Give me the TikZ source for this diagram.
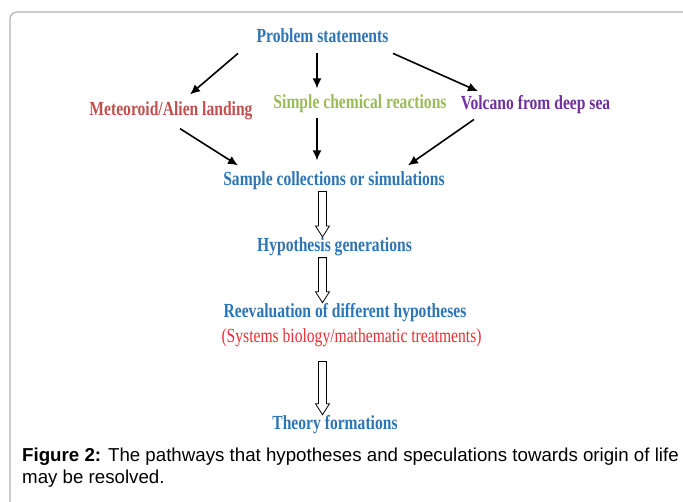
\documentclass[tikz,border=0pt]{standalone}
\usepackage{fontspec}
\setmainfont{Liberation Serif}
\setsansfont{Liberation Sans}
\newfontfamily\narrowserif[FakeStretch=0.78]{Liberation Serif}
\usetikzlibrary{arrows.meta,calc}

\definecolor{stepblue}{RGB}{46,117,182}
\definecolor{meteorred}{RGB}{192,80,77}
\definecolor{chemgreen}{RGB}{155,187,89}
\definecolor{volcpurple}{RGB}{112,48,160}
\definecolor{notered}{RGB}{235,45,55}
\definecolor{framegray}{RGB}{178,178,178}

\tikzset{
  lbl/.style={anchor=base, inner sep=1pt, font=\narrowserif\bfseries\fontsize{20}{22}\selectfont},
  arr/.style={line width=1.6pt, -{Latex[length=10pt,width=9pt]}},
  hollow/.style={draw=black, fill=white, line width=0.8pt,
    to path={let \p1=(\tikztostart), \p2=(\tikztotarget) in
      (\x1-4pt,\y1) -- (\x1+4pt,\y1) -- (\x1+4pt,\y2+11pt) -- (\x1+7pt,\y2+11pt)
      -- (\x1,\y2) -- (\x1-7pt,\y2+11pt) -- (\x1-4pt,\y2+11pt) -- cycle}}
}

\begin{document}
\begin{tikzpicture}[x=1pt, y=-1pt]
        \useasboundingbox (0,0) rectangle (683,502);
        \draw[framegray, line width=1.2pt, rounded corners=7pt] (10,12) rectangle (720,540);

        \node[lbl, stepblue] (top) at (322.5,43) {Problem statements};
        \node[lbl, meteorred] (meteor) at (171,116) {Meteoroid/Alien landing};
        \node[lbl, chemgreen] (chem) at (360,109) {Simple chemical reactions};
        \node[lbl, volcpurple] (volc) at (535.5,110) {Volcano from deep sea};
        \node[lbl, stepblue] (sample) at (334,186) {Sample collections or simulations};
        \node[lbl, stepblue] (hyp) at (334.5,252) {Hypothesis generations};
        \node[lbl, stepblue] (reeval) at (345,318) {Reevaluation of different hypotheses};
        \node[lbl, notered, font=\narrowserif\fontsize{20}{22}\selectfont] (systems) at (351.5,343) {(Systems biology/mathematic treatments)};
        \node[lbl, stepblue] (theory) at (335,430) {Theory formations};

        % problem statements fan out to the three scenarios
        \draw[arr] ($(top.south)+(-84.5,9)$) -- ($(meteor.north)+(19,-6.5)$);
        \draw[arr] ($(top.south)+(-5.5,9)$) -- ($(chem.north)+(-43,-5.5)$);
        \draw[arr] ($(top.south)+(70.5,9)$) -- ($(volc.north)+(-57.5,-3.5)$);
        % and back together
        \draw[arr] ($(meteor.south)+(9,7)$) -- ($(sample.north)+(-96,-5.5)$);
        \draw[arr] ($(chem.south)+(-43,4)$) -- ($(sample.north)+(-17,-10.5)$);
        \draw[arr] ($(volc.south)+(-61.5,4)$) -- ($(sample.north)+(74,-5.5)$);

        \draw[hollow] (sample.south -| top.south) to (hyp.north -| top.south);
        \draw[hollow] (hyp.south -| top.south) to (reeval.north -| top.south);
        \draw[hollow] ($(systems.south -| top.south)+(0,13)$) to (theory.north -| top.south);

        \node[anchor=north west, inner sep=0pt, align=left, font=\sffamily\fontsize{18.7}{22}\selectfont] (caption) at (22,448)
          {\textbf{Figure 2:} The pathways that hypotheses and speculations towards origin of life\\may be resolved.};
    \end{tikzpicture}
\end{document}
